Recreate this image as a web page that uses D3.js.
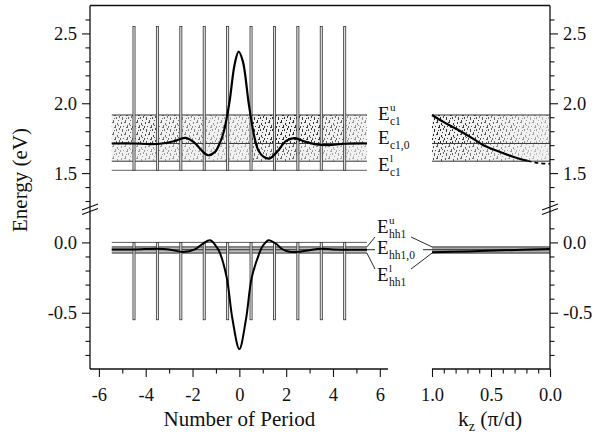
<!DOCTYPE html>
<html><head><meta charset="utf-8">
<script src="https://cdn.jsdelivr.net/npm/d3@7"></script>
<style>
body{margin:0;background:#fff;}
svg{display:block;font-family:"Liberation Serif","Times New Roman",serif;}
</style></head><body>
<svg id="chart" width="597" height="438"></svg>
<script>
// ---- superlattice potential profile ----
const barrierCenters = [-4.5, -3.5, -2.5, -1.5, -0.5, 0.5, 1.5, 2.5, 3.5, 4.5];
const barrierHalfWidth = 0.045;
const slExtent = [-5.45, 5.45];
const cbProfile = [1.52, 2.55];      // well bottom, barrier top (conduction band)
const vbProfile = [0.0, -0.55];      // well top, barrier bottom (valence band)

// ---- miniband levels: lower edge, centre, upper edge ----
const ec1Levels = [1.585, 1.712, 1.916];
const hh1Levels = [-0.076, -0.052, -0.032];

// ---- envelope functions along the growth direction ----
const cbPsiN = [-5.45, -4.5, -3.8, -3.3, -2.8, -2.3, -1.9, -1.6, -1.35, -1.05, -0.82, -0.66, -0.43, -0.2, -0.03, 0.15, 0.4, 0.64, 0.82, 1.05, 1.3, 1.6, 2.0, 2.35, 2.8, 3.3, 3.8, 4.5, 5.45];
const cbPsiE = [1.712, 1.712, 1.708, 1.712, 1.728, 1.752, 1.715, 1.66, 1.628, 1.65, 1.72, 1.80, 2.0, 2.28, 2.37, 2.30, 2.0, 1.76, 1.66, 1.615, 1.605, 1.65, 1.73, 1.75, 1.725, 1.705, 1.70, 1.71, 1.712];
const hhPsiN = [-5.45, -4.5, -3.5, -3.0, -2.4, -1.9, -1.55, -1.25, -0.98, -0.83, -0.54, -0.29, 0.0, 0.28, 0.53, 0.86, 1.0, 1.25, 1.55, 1.85, 2.2, 2.6, 3.0, 3.5, 4.0, 5.45];
const hhPsiE = [-0.05, -0.05, -0.045, -0.05, -0.068, -0.05, -0.008, 0.015, -0.03, -0.075, -0.25, -0.55, -0.758, -0.55, -0.25, -0.075, -0.025, 0.015, -0.008, -0.05, -0.068, -0.066, -0.055, -0.045, -0.05, -0.052];

// ---- miniband dispersion E(kz) ----
const cbKz = [1.0, 0.9, 0.78, 0.65, 0.565, 0.45, 0.35, 0.26, 0.19];
const cbDispE = [1.916, 1.865, 1.81, 1.745, 1.70, 1.66, 1.628, 1.603, 1.588];
const cbKzDashed = [0.19, 0.1, 0.0];
const cbDispDashedE = [1.588, 1.572, 1.566];
const hhKz = [1.0, 0.7, 0.4, 0.0];
const hhDispE = [-0.07, -0.064, -0.056, -0.047];

// ---- shading density of the stippled minibands ----
const cellEdges = [-5.45, -4.5, -3.5, -2.5, -1.5, -0.5, 0.5, 1.5, 2.5, 3.5, 4.5, 5.45];
const cellDensityUpper = [0.65, 0.75, 0.6, 0.5, 0.4, 0.4, 0.9, 0.95, 0.85, 0.65, 0.45];
const cellDensityLower = [0.4, 0.4, 0.4, 0.35, 0.3, 0.3, 0.6, 0.65, 0.45, 0.35, 0.3];
const kzEdges = [1.0, 0.9, 0.8, 0.7, 0.6, 0.5, 0.4, 0.3, 0.2, 0.1, 0.0];
const kzDensityUpper = [0.95, 0.9, 0.85, 0.8, 0.72, 0.62, 0.52, 0.45, 0.36, 0.3];
const kzDensityLower = [0.75, 0.7, 0.65, 0.58, 0.5, 0.45, 0.4, 0.32, 0.26, 0.2];

// ---- axis ticks ----
const nTicks = [-6, -4, -2, 0, 2, 4, 6];
const nMinorTicks = [-5, -3, -1, 1, 3, 5];
const kzTicks = [1.0, 0.5, 0.0];
const kzMinorTicks = [0.9, 0.8, 0.7, 0.6, 0.4, 0.3, 0.2, 0.1];
const upperTicks = [1.5, 2.0, 2.5];
const upperMinorTicks = [1.3, 1.4, 1.6, 1.7, 1.8, 1.9, 2.1, 2.2, 2.3, 2.4, 2.6];
const lowerTicks = [0.0, -0.5];
const lowerMinorTicks = [0.1, -0.1, -0.2, -0.3, -0.4, -0.6, -0.7, -0.8];

const svg = d3.select("#chart");
const FONT = 18.5;

// scales: period index (left), kz (right), broken energy axis
const xN = d3.scaleLinear().domain([-6.38, 6.35]).range([90, 388]);
const xK = d3.scaleLinear().domain([1.0, 0.0]).range([432, 550]);
const yU = d3.scaleLinear().domain([1.25, 2.7]).range([208, 5.5]);
const yL = d3.scaleLinear().domain([-0.9, 0.15]).range([369, 221.3]);

// stipple texture
const defs = svg.append("defs");
const pat = defs.append("pattern").attr("id", "stipple")
  .attr("patternUnits", "userSpaceOnUse").attr("width", 12).attr("height", 12);
const dots = [[1,2,1,2],[5,0,1,3],[9,3,1,2],[3,6,1,1],[7,5,1,3],[11,8,1,2],[2,9,1,3],[6,10,1,1],[10,0,1,1],[4,2,1,1],[8,9,1,2],[0,6,1,2],[6,7,1,1],[10,5,1,1]];
pat.selectAll("rect").data(dots).join("rect")
  .attr("x", d => d[0]).attr("y", d => d[1]).attr("width", d => d[2]).attr("height", d => d[3])
  .attr("fill", "#111");

const gBands = svg.append("g");
// conduction miniband, period cells
cellEdges.slice(0, -1).forEach((e0, i) => {
  const e1 = cellEdges[i + 1];
  gBands.append("rect").attr("x", xN(e0)).attr("width", xN(e1) - xN(e0))
    .attr("y", yU(ec1Levels[2])).attr("height", yU(ec1Levels[1]) - yU(ec1Levels[2]))
    .attr("fill", "url(#stipple)").attr("opacity", cellDensityUpper[i]);
  gBands.append("rect").attr("x", xN(e0)).attr("width", xN(e1) - xN(e0))
    .attr("y", yU(ec1Levels[1])).attr("height", yU(ec1Levels[0]) - yU(ec1Levels[1]))
    .attr("fill", "url(#stipple)").attr("opacity", cellDensityLower[i]);
});
gBands.append("rect").attr("x", xN(slExtent[0])).attr("width", xN(slExtent[1]) - xN(slExtent[0]))
  .attr("y", yU(ec1Levels[2])).attr("height", yU(ec1Levels[0]) - yU(ec1Levels[2]))
  .attr("fill", "#888").attr("opacity", 0.12);
// conduction miniband, kz cells
kzEdges.slice(0, -1).forEach((k0, i) => {
  const k1 = kzEdges[i + 1];
  gBands.append("rect").attr("x", xK(k0)).attr("width", xK(k1) - xK(k0))
    .attr("y", yU(ec1Levels[2])).attr("height", yU(ec1Levels[1]) - yU(ec1Levels[2]))
    .attr("fill", "url(#stipple)").attr("opacity", kzDensityUpper[i]);
  gBands.append("rect").attr("x", xK(k0)).attr("width", xK(k1) - xK(k0))
    .attr("y", yU(ec1Levels[1])).attr("height", yU(ec1Levels[0]) - yU(ec1Levels[1]))
    .attr("fill", "url(#stipple)").attr("opacity", kzDensityLower[i]);
});
gBands.append("rect").attr("x", xK(1)).attr("width", xK(0) - xK(1))
  .attr("y", yU(ec1Levels[2])).attr("height", yU(ec1Levels[0]) - yU(ec1Levels[2]))
  .attr("fill", "#888").attr("opacity", 0.12);
// heavy-hole miniband shading
gBands.append("rect").attr("x", xN(slExtent[0])).attr("width", xN(slExtent[1]) - xN(slExtent[0]))
  .attr("y", yL(hh1Levels[2])).attr("height", yL(hh1Levels[0]) - yL(hh1Levels[2]))
  .attr("fill", "#bbb");
gBands.append("rect").attr("x", xK(1)).attr("width", xK(0) - xK(1))
  .attr("y", yL(hh1Levels[2])).attr("height", yL(hh1Levels[0]) - yL(hh1Levels[2]))
  .attr("fill", "#aaa");

// miniband edge and centre lines
const gLevels = svg.append("g").attr("stroke", "#222").attr("stroke-width", 0.9);
ec1Levels.forEach(E => {
  gLevels.append("line").attr("x1", xN(slExtent[0])).attr("x2", xN(slExtent[1])).attr("y1", yU(E)).attr("y2", yU(E));
  gLevels.append("line").attr("x1", xK(1)).attr("x2", xK(0)).attr("y1", yU(E)).attr("y2", yU(E));
});
hh1Levels.forEach(E => {
  gLevels.append("line").attr("x1", xN(slExtent[0])).attr("x2", xN(slExtent[1])).attr("y1", yL(E)).attr("y2", yL(E));
  gLevels.append("line").attr("x1", xK(1)).attr("x2", xK(0)).attr("y1", yL(E)).attr("y2", yL(E));
});

// potential profile: well edges and barriers
const gPot = svg.append("g").attr("stroke", "#333").attr("stroke-width", 0.8);
gPot.append("line").attr("x1", xN(slExtent[0])).attr("x2", xN(slExtent[1]))
  .attr("y1", yU(cbProfile[0])).attr("y2", yU(cbProfile[0]));
gPot.append("line").attr("x1", xN(slExtent[0])).attr("x2", xN(slExtent[1]))
  .attr("y1", yL(vbProfile[0])).attr("y2", yL(vbProfile[0]));
gPot.selectAll("rect.cb").data(barrierCenters).join("rect").attr("class", "cb")
  .attr("x", d => xN(d - barrierHalfWidth)).attr("width", d => xN(d + barrierHalfWidth) - xN(d - barrierHalfWidth))
  .attr("y", yU(cbProfile[1])).attr("height", yU(cbProfile[0]) - yU(cbProfile[1]))
  .attr("fill", "#e2e2e2");
gPot.selectAll("rect.vb").data(barrierCenters).join("rect").attr("class", "vb")
  .attr("x", d => xN(d - barrierHalfWidth)).attr("width", d => xN(d + barrierHalfWidth) - xN(d - barrierHalfWidth))
  .attr("y", yL(vbProfile[0])).attr("height", yL(vbProfile[1]) - yL(vbProfile[0]))
  .attr("fill", "#e2e2e2");

// envelope functions
const lineN = (ys) => d3.line().x(d => xN(d[0])).y(d => ys(d[1])).curve(d3.curveCatmullRom.alpha(0.5));
svg.append("path").datum(d3.zip(cbPsiN, cbPsiE)).attr("d", lineN(yU))
  .attr("fill", "none").attr("stroke", "#000").attr("stroke-width", 2.2);
svg.append("path").datum(d3.zip(hhPsiN, hhPsiE)).attr("d", lineN(yL))
  .attr("fill", "none").attr("stroke", "#000").attr("stroke-width", 2.0);

// dispersion curves
const lineK = (ys) => d3.line().x(d => xK(d[0])).y(d => ys(d[1])).curve(d3.curveCatmullRom.alpha(0.5));
svg.append("path").datum(d3.zip(cbKz, cbDispE)).attr("d", lineK(yU))
  .attr("fill", "none").attr("stroke", "#000").attr("stroke-width", 2.2);
svg.append("path").datum(d3.zip(cbKzDashed, cbDispDashedE)).attr("d", lineK(yU))
  .attr("fill", "none").attr("stroke", "#000").attr("stroke-width", 1.6).attr("stroke-dasharray", "4,3");
svg.append("path").datum(d3.zip(hhKz, hhDispE)).attr("d", lineK(yL))
  .attr("fill", "none").attr("stroke", "#000").attr("stroke-width", 2.0);

// ---- axes ----
const fmt1 = d => d.toFixed(1);
function drawAxis(gen, scale, majors, minors, fmt, tf, pad) {
  const g = svg.append("g").attr("transform", tf);
  g.call(gen(scale).tickValues(majors).tickSize(8).tickPadding(pad).tickFormat(fmt));
  g.call(gg => gg.select(".domain").remove());
  const g2 = svg.append("g").attr("transform", tf);
  g2.call(gen(scale).tickValues(minors).tickSize(4.5).tickFormat(""));
  g2.call(gg => gg.select(".domain").remove());
  [g, g2].forEach(a => {
    a.selectAll("line").attr("stroke", "#111").attr("stroke-width", 1.1);
    a.selectAll("text").attr("font-size", FONT).attr("font-family", "Liberation Serif").attr("fill", "#111");
  });
  return g;
}
drawAxis(d3.axisLeft, yU, upperTicks, upperMinorTicks, fmt1, "translate(90,0)", 5);
drawAxis(d3.axisLeft, yL, lowerTicks, lowerMinorTicks, fmt1, "translate(90,0)", 5);
drawAxis(d3.axisRight, yU, upperTicks, upperMinorTicks, fmt1, "translate(550,0)", 5);
drawAxis(d3.axisRight, yL, lowerTicks, lowerMinorTicks, fmt1, "translate(550,0)", 5);
drawAxis(d3.axisBottom, xN, nTicks, nMinorTicks, d => String(d), "translate(0,369)", 11);
drawAxis(d3.axisBottom, xK, kzTicks, kzMinorTicks, fmt1, "translate(0,369)", 11);

// frame
const gFrame = svg.append("g").attr("stroke", "#111").attr("stroke-width", 1.3).attr("fill", "none");
gFrame.append("line").attr("x1", 90).attr("x2", 550).attr("y1", yU(2.7)).attr("y2", yU(2.7));
gFrame.append("line").attr("x1", 90).attr("x2", 90).attr("y1", yU(2.7)).attr("y2", yL(-0.9));
gFrame.append("line").attr("x1", 550).attr("x2", 550).attr("y1", yU(2.7)).attr("y2", yL(-0.9));
gFrame.append("line").attr("x1", xN.range()[0]).attr("x2", xN.range()[1]).attr("y1", yL(-0.9)).attr("y2", yL(-0.9));
gFrame.append("line").attr("x1", xK(1)).attr("x2", xK(0)).attr("y1", yL(-0.9)).attr("y2", yL(-0.9));

// axis break marks
[90, 550].forEach(x => {
  [207, 211.5].forEach(y => {
    gFrame.append("line").attr("x1", x - 8).attr("y1", y + 3).attr("x2", x + 8).attr("y2", y - 3)
      .attr("stroke-width", 1.2);
  });
});

// axis titles
svg.append("text").attr("transform", "translate(27,180) rotate(-90)")
  .attr("text-anchor", "middle").attr("font-size", 21).attr("fill", "#111").text("Energy (eV)");
svg.append("text").attr("x", xN(0)).attr("y", 426).attr("text-anchor", "middle")
  .attr("font-size", 21).attr("fill", "#111").text("Number of Period");
const kzTitle = svg.append("text").attr("x", 490).attr("y", 426).attr("text-anchor", "middle")
  .attr("font-size", 21.5).attr("fill", "#111");
kzTitle.append("tspan").text("k");
kzTitle.append("tspan").attr("font-size", 14).attr("dy", 5).text("z");
kzTitle.append("tspan").attr("dy", -5).text(" (π/d)");

// level labels: E with stacked superscript / subscript
function levelLabel(x, y, sub, sup) {
  const g = svg.append("g").attr("fill", "#111");
  g.append("text").attr("x", x).attr("y", y).attr("font-size", 19).text("E");
  if (sup) g.append("text").attr("x", x + 12).attr("y", y - 9).attr("font-size", 11).text(sup);
  g.append("text").attr("x", x + 12).attr("y", y + 5).attr("font-size", 11.5).text(sub);
}
levelLabel(378, 120, "c1", "u");
levelLabel(378, 144, "c1,0", null);
levelLabel(378, 171, "c1", "l");
levelLabel(377, 233, "hh1", "u");
levelLabel(377, 254, "hh1,0", null);
levelLabel(377, 281, "hh1", "l");

// leader lines from the heavy-hole labels to the miniband levels
const gLead = svg.append("g").attr("stroke", "#111").attr("stroke-width", 0.9);
const leads = [
  [xN(slExtent[1]), yL(hh1Levels[2]), 375, 237],
  [xN(slExtent[1]), yL(hh1Levels[0]), 375, 269],
  [xN(slExtent[1]), yL(hh1Levels[1]), 375, yL(hh1Levels[1])],
  [411, 237, xK(1), yL(hh1Levels[2])],
  [411, 269, xK(1), yL(hh1Levels[0])],
  [423, yL(hh1Levels[1]), xK(1), yL(hh1Levels[1])]
];
leads.forEach(l => gLead.append("line").attr("x1", l[0]).attr("y1", l[1]).attr("x2", l[2]).attr("y2", l[3]));
</script>
</body></html>
